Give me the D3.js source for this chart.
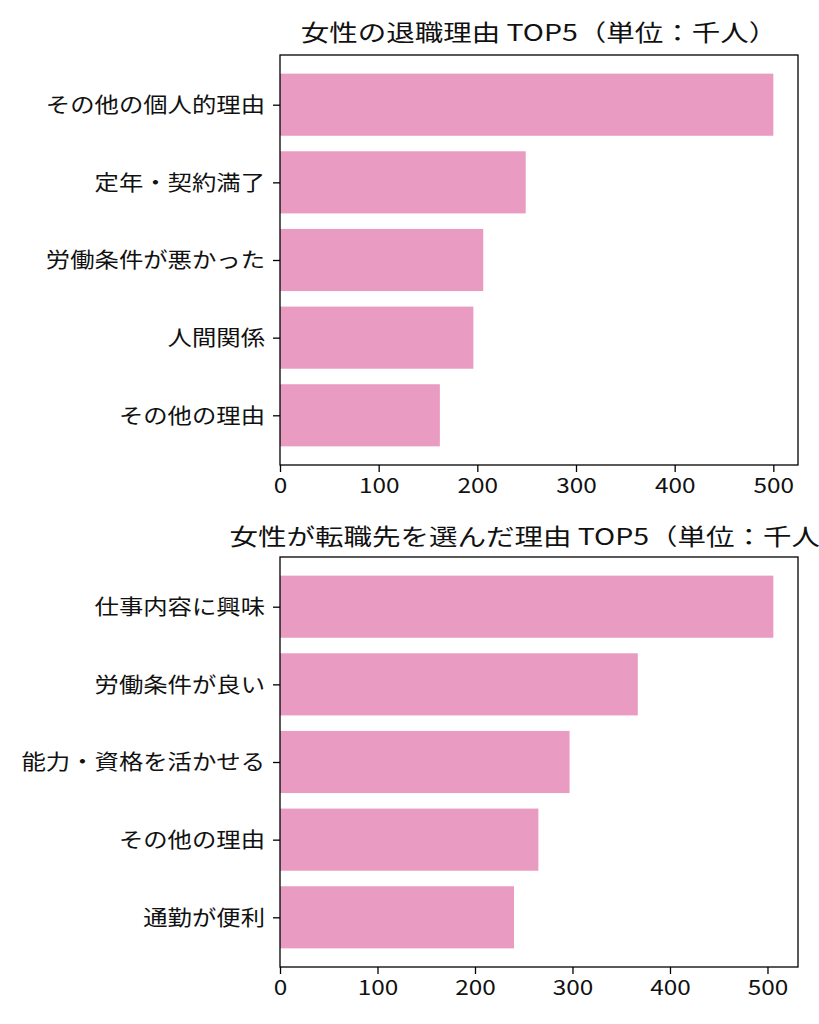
<!DOCTYPE html>
<html>
<head>
<meta charset="utf-8">
<script src="https://cdn.jsdelivr.net/npm/d3@7"></script>
<style>
  body { margin: 0; background: #fff; }
  svg { display: block; font-family: "Noto Sans CJK JP", sans-serif; }
</style>
</head>
<body>
<div id="wrapper"></div>
<script>
// data
const retireTitle = "女性の退職理由 TOP5（単位：千人）";
const retireReasons = ["その他の個人的理由", "定年・契約満了", "労働条件が悪かった", "人間関係", "その他の理由"];
const retireValues = [500, 249, 206, 196, 162];

const jobTitle = "女性が転職先を選んだ理由 TOP5（単位：千人）";
const jobReasons = ["仕事内容に興味", "労働条件が良い", "能力・資格を活かせる", "その他の理由", "通勤が便利"];
const jobValues = [506, 367, 297, 265, 240];

const xTicks = [0, 100, 200, 300, 400, 500];

const width = 819, height = 1024;
const barColor = "#e99bc2";
// the reference glyphs are a bit wider than tall
const stretch = 1.16;
const titleStretch = 1.24;

const svg = d3.select("#wrapper")
    .append("svg")
    .attr("width", width)
    .attr("height", height);

function drawPanel(title, names, values, box) {
    const g = svg.append("g");

    const xMax = d3.max(values) * 1.05;
    const x = d3.scaleLinear()
        .domain([0, xMax])
        .range([box.left, box.right]);

    // matplotlib-like category axis: bar height 0.8, 5% margins
    const n = names.length;
    const lo = -0.4 - 0.05 * (n - 1 + 0.8);
    const hi = n - 1 + 0.4 + 0.05 * (n - 1 + 0.8);
    const y = d3.scaleLinear()
        .domain([lo, hi])
        .range([box.top, box.bottom]);

    g.selectAll("rect.bar")
        .data(values)
        .enter()
        .append("rect")
        .attr("class", "bar")
        .attr("x", x(0))
        .attr("y", (d, i) => y(i - 0.4))
        .attr("width", d => x(d) - x(0))
        .attr("height", (d, i) => y(i + 0.4) - y(i - 0.4))
        .attr("fill", barColor);

    const xAxis = g.append("g")
        .attr("transform", `translate(0,${box.bottom})`)
        .call(d3.axisBottom(x).tickValues(xTicks).tickSize(7).tickPadding(6));
    xAxis.select(".domain").remove();
    xAxis.selectAll("line").attr("stroke", "#000").attr("stroke-width", 1.3);
    xAxis.selectAll("text")
        .attr("fill", "#111")
        .attr("font-size", "21px")
        .attr("font-family", "'Noto Sans CJK JP', sans-serif")
        .attr("transform", `scale(${stretch},1)`);

    const yAxis = g.append("g")
        .attr("transform", `translate(${box.left},0)`)
        .call(d3.axisLeft(y).tickValues(d3.range(n)).tickFormat(i => names[i]).tickSize(7).tickPadding(8));
    yAxis.select(".domain").remove();
    yAxis.selectAll("line").attr("stroke", "#000").attr("stroke-width", 1.3);
    yAxis.selectAll("text")
        .attr("fill", "#111")
        .attr("font-size", "21px")
        .attr("font-family", "'Noto Sans CJK JP', sans-serif")
        .attr("x", -15 / stretch)
        .attr("transform", `scale(${stretch},1)`);

    // frame
    g.append("rect")
        .attr("x", box.left)
        .attr("y", box.top)
        .attr("width", box.right - box.left)
        .attr("height", box.bottom - box.top)
        .attr("fill", "none")
        .attr("stroke", "#000")
        .attr("stroke-width", 1.3);

    g.append("text")
        .attr("transform", `translate(${(box.left + box.right) / 2},${box.top - box.titleGap}) scale(${titleStretch},1)`)
        .attr("text-anchor", "middle")
        .attr("font-size", "23px")
        .attr("fill", "#111")
        .text(title);
}

drawPanel(retireTitle, retireReasons, retireValues, {left: 280, right: 798, top: 55, bottom: 465, titleGap: 14});
drawPanel(jobTitle, jobReasons, jobValues, {left: 280, right: 798, top: 557, bottom: 967, titleGap: 12});
</script>
</body>
</html>
